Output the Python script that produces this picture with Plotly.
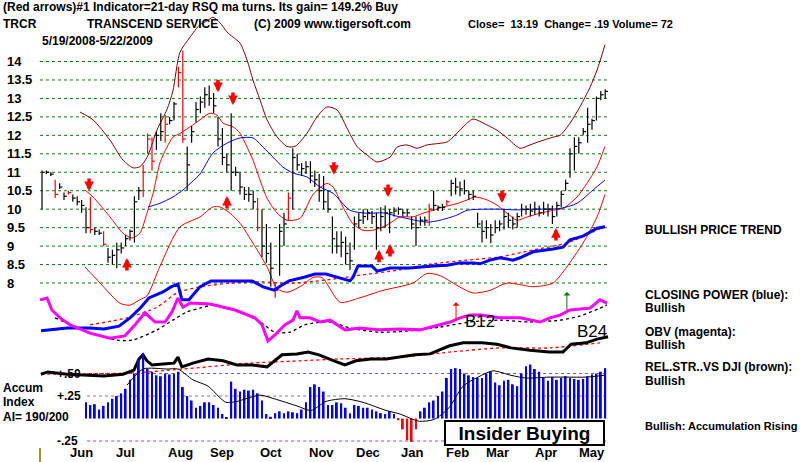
import plotly.graph_objects as go

FONT = "Liberation Sans, Arial, sans-serif"

# ---------------- data ----------------
title_line1 = "(Red arrows)#1 Indicator=21-day RSQ ma turns. Its gain= 149.2% Buy"
ticker = "TRCR"
company = "TRANSCEND SERVICE"
copyright_txt = "(C) 2009 www.tigersoft.com"
quote_txt = "Close=  13.19  Change= .19 Volume= 72"
date_range = "5/19/2008-5/22/2009"

price_ticks = [8, 8.5, 9, 9.5, 10, 10.5, 11, 11.5, 12, 12.5, 13, 13.5, 14]
price_tick_labels = ["8", "8.5", "9", "9.5", "10", "10.5", "11", "11.5", "12", "12.5", "13", "13.5", "14"]

month_labels = ["Jun", "Jul", "Aug", "Sep", "Oct", "Nov", "Dec", "Jan", "Feb", "Mar", "Apr", "May"]
month_day = [18, 38, 63, 82, 104, 127, 148, 168, 189, 207, 229, 250]

# price bars, one sample every 2 trading days
bar_high = [11.05, 11.05, 11.0, 10.8, 10.7, 10.45, 10.5, 10.4, 10.35, 10.25,
            10.05, 10.33, 9.5, 9.45, 9.4, 8.95, 8.9, 9.1, 9.1, 9.3,
            9.45, 10.35, 10.6, 11.2, 12.05, 11.95, 12.1, 12.6, 12.55, 12.5,
            12.9, 13.85, 14.3, 11.7, 12.25, 12.9, 13.05, 13.3, 13.35, 13.15,
            12.5, 12.2, 11.5, 12.6, 11.15, 11.0, 10.6, 10.6, 10.5, 10.3,
            10.0, 9.6, 9.1, 8.0, 9.6, 9.9, 10.45, 11.65, 11.5, 11.25,
            11.3, 11.3, 11.05, 10.95, 10.9, 10.5, 9.8, 9.4, 9.4, 9.25,
            9.1, 9.8, 9.9, 10.0, 10.0, 9.95, 9.9, 10.05, 10.1, 10.0,
            10.05, 10.05, 10.0, 10.0, 9.8, 9.8, 9.8, 9.8, 10.15, 10.5,
            10.1, 10.15, 10.25, 10.8, 10.85, 10.75, 10.8, 10.5, 10.5, 9.9,
            9.7, 9.7, 9.6, 9.7, 9.7, 10.0, 9.9, 9.8, 9.9, 10.15,
            10.1, 10.15, 10.2, 10.1, 10.2, 10.15, 10.1, 10.2, 10.5, 10.8,
            11.65, 11.95, 11.95, 12.2, 12.75, 12.45, 13.05, 13.2, 13.25]
bar_low = [10.0, 10.95, 10.9, 10.3, 10.55, 10.25, 10.4, 10.2, 10.1, 9.9,
           9.35, 9.35, 9.3, 9.3, 9.0, 8.55, 8.5, 8.4, 8.8, 9.0,
           9.15, 9.1, 10.25, 10.33, 11.5, 11.05, 11.6, 11.85, 11.8, 12.3,
           12.4, 13.3, 11.8, 10.5, 11.8, 12.35, 12.6, 12.75, 12.8, 12.6,
           11.7, 11.2, 11.0, 10.5, 10.9, 10.4, 10.25, 10.2, 10.0, 9.4,
           8.7, 8.55, 7.9, 7.6, 8.2, 9.0, 9.7, 10.0, 11.05, 10.9,
           10.95, 10.7, 10.6, 10.2, 10.0, 9.9, 8.8, 8.8, 8.7, 8.5,
           8.35, 8.9, 9.5, 9.6, 9.7, 9.6, 8.9, 9.4, 9.5, 9.35,
           9.8, 9.85, 9.8, 9.8, 9.45, 9.0, 9.55, 9.55, 9.55, 9.95,
           9.95, 9.95, 10.1, 10.35, 10.4, 10.35, 10.4, 10.25, 10.25, 9.5,
           9.1, 9.2, 9.08, 9.35, 9.4, 9.45, 9.5, 9.45, 9.5, 9.8,
           9.85, 9.8, 9.85, 9.8, 9.85, 9.8, 9.6, 9.8, 10.05, 10.5,
           10.85, 11.05, 11.5, 12.0, 11.8, 12.15, 12.4, 12.95, 13.0]
bar_close = [11.0, 11.0, 10.95, 10.4, 10.6, 10.35, 10.45, 10.3, 10.2, 10.1,
             9.5, 9.45, 9.4, 9.35, 9.05, 8.7, 8.75, 8.9, 8.95, 9.2,
             9.4, 10.2, 10.5, 11.0, 11.9, 11.3, 12.0, 12.1, 12.3, 12.4,
             12.85, 13.7, 11.9, 11.2, 12.1, 12.7, 12.9, 13.1, 13.0, 12.8,
             11.9, 11.4, 11.2, 11.0, 11.0, 10.6, 10.4, 10.4, 10.2, 9.5,
             9.0, 8.8, 8.4, 7.8, 9.4, 9.6, 10.3, 11.4, 11.2, 11.1,
             11.15, 10.9, 10.8, 10.5, 10.2, 10.0, 9.2, 9.0, 9.1, 8.8,
             8.6, 9.6, 9.7, 9.8, 9.9, 9.8, 9.5, 9.8, 9.9, 9.9,
             9.95, 10.0, 9.9, 9.9, 9.6, 9.5, 9.7, 9.7, 10.0, 10.1,
             10.05, 10.05, 10.2, 10.7, 10.6, 10.55, 10.5, 10.4, 10.35, 9.6,
             9.4, 9.5, 9.3, 9.5, 9.6, 9.8, 9.7, 9.6, 9.8, 10.0,
             10.0, 9.95, 10.0, 9.9, 10.0, 10.0, 9.8, 10.1, 10.4, 10.7,
             11.5, 11.7, 11.8, 12.1, 12.3, 12.4, 13.0, 13.1, 13.19]
red_bar_index = [3, 6, 11, 14, 23, 24, 25, 28, 31, 32, 49, 53, 56, 88, 92]
bar_day = [2 * i for i in range(len(bar_high))]

# bands and moving average on the price scale: (trading day, price)
upper_band = [(17.3, 12.63), (23.2, 12.42), (30.9, 11.87), (36.8, 11.33), (41.4, 11.12), (44.5, 11.15),
              (47.7, 11.4), (52.3, 12.15), (56.8, 12.7), (59.5, 13.2), (62.7, 14.25), (67.3, 14.66),
              (71.8, 15.0), (75, 15.1), (77.7, 15.2), (80.9, 15.05), (84.1, 14.8), (86.8, 14.66),
              (90, 14.5), (93.2, 14.04), (95.9, 13.5), (99.1, 12.96), (102.3, 12.42), (106.8, 11.96),
              (111.4, 11.7), (115, 11.7), (120.5, 12.06), (125, 12.5), (129.5, 12.77), (134.1, 12.69),
              (138.6, 12.2), (143.2, 11.7), (147.7, 11.47), (152.3, 11.28), (158.2, 11.41), (161.4, 11.68),
              (165.9, 11.74), (170.5, 11.65), (175, 11.74), (184.1, 11.82), (186.8, 11.95), (191.4, 12.23),
              (195.9, 12.44), (202.3, 12.28), (206.8, 12.14), (211.4, 11.93), (217.3, 11.65), (221.8, 11.74),
              (226.4, 11.84), (232.3, 11.95), (235.5, 12.0), (240, 12.33), (244.5, 12.77), (249.1, 13.3),
              (252.3, 13.77), (255.9, 14.45)]
mid_line = [(19.5, 10.52), (23.2, 10.33), (30.9, 9.79), (36.8, 9.35), (40.9, 9.22), (44.5, 9.35),
            (47.7, 9.89), (50.5, 10.43), (53.6, 11.25), (56.8, 11.68), (59.5, 11.95), (62.7, 12.05),
            (67.3, 12.23), (71.8, 12.42), (76.4, 12.6), (79.5, 12.55), (82.3, 12.33), (86.8, 12.23),
            (90, 12.06), (93.2, 11.68), (95.9, 11.33), (99.1, 10.79), (102.3, 10.3), (106.8, 9.9),
            (111.4, 9.7), (117.3, 9.75), (123.2, 10.4), (129.5, 10.7), (132.3, 10.6), (136.8, 10.06),
            (141.4, 9.6), (145.9, 9.43), (150.5, 9.43), (156.8, 9.57), (162.7, 9.79), (168.6, 9.79),
            (173.2, 9.89), (177.7, 9.97), (182.3, 10.06), (188.6, 10.15), (193.2, 10.25), (196.8, 10.33),
            (202.3, 10.25), (206.8, 10.11), (211.4, 9.89), (215.9, 9.7), (220.5, 9.79), (226.4, 9.89),
            (232.3, 9.97), (236.8, 10.02), (243.2, 10.33), (247.7, 10.7), (252.3, 11.15), (255.9, 11.7)]
lower_band = [(19.5, 8.44), (26.4, 8.0), (35.5, 7.45), (40, 7.4), (44.5, 7.55), (47.7, 7.65),
              (53.6, 8.45), (62.7, 9.52), (71.8, 9.79), (77.7, 10.06), (80.9, 10.06), (85.5, 9.89),
              (90, 9.62), (95.9, 9.08), (102.3, 8.44), (106.8, 7.85), (111.4, 7.75), (117.3, 7.9),
              (123.2, 8.15), (127.3, 8.15), (135.5, 7.48), (144.5, 7.6), (155, 7.8), (168.6, 8.0),
              (175, 8.26), (180.9, 8.2), (190, 7.89), (195.9, 7.73), (203.6, 7.8), (211.4, 8.0),
              (223.2, 7.9), (232.3, 8.0), (238.6, 8.44), (245.9, 9.08), (252.3, 9.79), (255.9, 10.4)]
ma50_line = [(48.2, 10.06), (53.6, 10.16), (59.5, 10.33), (64.1, 10.52), (68.2, 10.74), (71.8, 10.95),
             (77.7, 11.52), (84.1, 11.79), (90, 11.93), (95.9, 11.93), (100.5, 11.68), (105, 11.41),
             (109.5, 11.14), (114.1, 10.98), (120.5, 10.87), (126.4, 10.6), (132.3, 10.43), (140, 9.97),
             (147.7, 9.89), (155, 9.9), (162.7, 9.79), (175, 9.65), (180.9, 9.7), (188.6, 9.84),
             (193.2, 9.97), (200.5, 10.0), (208.2, 10.0), (215.9, 9.98), (223.2, 10.0), (235.5, 10.02),
             (243.2, 10.16), (250.5, 10.52), (255.9, 10.79)]

# indicator scale (0-100): closing power, OBV, relative strength
closing_power = [(-0.45, 28.4), (11.4, 29.0), (21.4, 29.0), (28.2, 28.8), (35, 29.4), (40, 31.2), (45, 33.5),
                 (48.6, 35.5), (55, 36.8), (58.6, 37.9), (61.8, 38.5), (63.6, 35.1), (66.8, 35.1), (71.8, 37.9),
                 (76.8, 39.2), (85.5, 39.2), (95.5, 39.2), (100.5, 37.9), (105.5, 37.2), (109.1, 38.3),
                 (112.3, 39.2), (119.1, 40.0), (124.1, 40.7), (129.1, 40.7), (134.1, 40.0), (137.7, 39.6),
                 (140, 39.2), (141.4, 40.0), (143.6, 42.4), (150, 42.4), (152.3, 41.3), (158.2, 42.0),
                 (167.3, 42.0), (177.7, 42.4), (184.1, 42.6), (190, 43.1), (195.9, 43.1), (199.1, 42.9),
                 (203.6, 43.7), (208.2, 44.2), (214.1, 43.7), (217.3, 44.2), (223.2, 45.5), (232.3, 46.1),
                 (236.8, 46.5), (240, 48.1), (245.9, 48.9), (252.3, 50.6), (255.9, 50.9)]
closing_power_ma = [(21.8, 29.7), (38.6, 31.2), (52.3, 33.5), (61.4, 36.6), (71.8, 37.9), (85.5, 38.7),
                    (99.1, 39.0), (112.7, 38.7), (129.1, 39.4), (142.7, 40.3), (162.7, 41.6), (177.7, 42.9),
                    (193.2, 43.7), (208.2, 44.4), (223.2, 45.9), (238.6, 47.4), (250.5, 49.8), (255.9, 51.1)]
obv = [(-0.9, 35.1), (2.3, 35.5), (4.5, 32.9), (8.2, 31.2), (12.7, 29.7), (21.8, 27.9), (30.9, 26.8),
       (37.7, 27.3), (42.3, 29.7), (46.8, 32.3), (51.4, 30.3), (55.9, 30.3), (59.1, 32.5), (61.8, 35.5),
       (64.1, 33.5), (67.3, 34.4), (76.4, 34.2), (87.7, 32.9), (96.8, 31.2), (100, 29.7), (102.7, 26.2),
       (105.9, 27.5), (110.5, 29.7), (114.1, 30.7), (115.9, 32.7), (117.3, 31.2), (121.8, 31.2),
       (126.4, 30.3), (130.9, 30.7), (137.7, 28.6), (144.5, 29.0), (153.6, 28.6), (162.7, 28.8),
       (171.8, 28.6), (180.9, 29.7), (185.5, 30.3), (190, 31.2), (194.5, 31.8), (199.1, 31.8),
       (208.2, 31.2), (217.3, 31.2), (226.4, 30.3), (230.9, 31.2), (235.5, 31.8), (240, 32.9),
       (249.1, 33.3), (253.6, 35.1), (256.8, 34.4)]
obv_ma = [(5.9, 31.2), (21.8, 27.9), (34.1, 26.4), (41.4, 26.4), (52.3, 28.6), (59.5, 30.7), (65.9, 32.5),
          (71.8, 33.3), (78.6, 34.0), (90, 32.5), (99.1, 30.3), (105.9, 28.1), (112.7, 28.1), (119.5, 29.7),
          (130.9, 30.3), (140, 29.0), (153.6, 28.1), (167.3, 28.4), (180.9, 29.2), (194.5, 30.3),
          (208.2, 30.7), (221.8, 30.3), (235.5, 30.7), (244.5, 31.6), (253.6, 33.3), (256.8, 34.0)]
rel_strength = [(-0.5, 19.0), (2.7, 19.5), (11.4, 19.0), (20, 18.8), (28.2, 18.6), (36.8, 19.0), (41.8, 19.9),
                (44.1, 22.3), (45.9, 23.2), (47.7, 21.9), (50, 21.0), (55, 21.2), (60, 21.4), (61.8, 22.7),
                (63.6, 20.6), (68.6, 21.4), (75.5, 22.3), (82.3, 21.9), (88.6, 21.0), (95.5, 21.0),
                (102.3, 20.6), (109.1, 23.2), (115.9, 23.4), (120.9, 23.8), (125.9, 23.2), (132.7, 21.9),
                (137.7, 21.0), (142.7, 21.9), (149.5, 22.3), (156.4, 22.3), (162.7, 22.7), (169.5, 23.2),
                (176.4, 23.4), (185, 25.1), (191.4, 25.8), (200, 25.8), (206.8, 25.5), (213.2, 24.7),
                (221.8, 24.2), (230.5, 23.8), (236.8, 23.8), (240.5, 25.5), (247.3, 25.8), (252.3, 26.6),
                (257.3, 27.1)]
rel_strength_ma = [(-0.5, 19.0), (41.8, 19.3), (63.6, 20.1), (94.5, 21.4), (117.3, 21.9), (135.5, 22.3),
                   (162.7, 22.7), (185.5, 23.8), (208.2, 24.7), (230.9, 24.7), (253.6, 25.8)]

# accumulation index (from bar sample 10 on)
ai_values = [0.18, 0.15, 0.16, 0.10, 0.14, 0.18, 0.22, 0.25, 0.28, 0.33,
             0.43, 0.50, 0.65, 0.72, 0.55, 0.52, 0.48, 0.47, 0.50, 0.49,
             0.50, 0.52, 0.35, 0.25, 0.20, 0.12, 0.14, 0.18, 0.18, 0.15,
             0.12, 0.05, 0.01, 0.41, 0.33, 0.30, 0.32, 0.31, 0.32, 0.28,
             0.20, 0.05, 0.02, 0.06, 0.08, 0.06, 0.08, 0.07, 0.06, 0.10,
             0.18, 0.35, 0.38, 0.35, 0.30, 0.15, 0.15, 0.18, 0.17, 0.12,
             0.06, 0.15, 0.14, 0.12, 0.12, 0.10, 0.08, 0.06, 0.05, 0.08,
             0.05, -0.02, -0.12, -0.24, -0.26, -0.12, 0.08, 0.12, 0.18, 0.20,
             0.25, 0.30, 0.45, 0.55, 0.56, 0.55, 0.50, 0.48, 0.46, 0.45,
             0.45, 0.50, 0.52, 0.40, 0.37, 0.42, 0.43, 0.38, 0.36, 0.50,
             0.58, 0.60, 0.55, 0.52, 0.45, 0.42, 0.46, 0.43, 0.45, 0.47,
             0.45, 0.44, 0.43, 0.44, 0.47, 0.49, 0.50, 0.52, 0.56]
ai_day = bar_day[len(bar_day) - len(ai_values):]
ai_ma = [(38.6, 0.37), (45.9, 0.55), (56.8, 0.55), (61.8, 0.55), (68.6, 0.43), (75.5, 0.36), (80.5, 0.24),
         (83.6, 0.18), (88.6, 0.19), (99.1, 0.26), (105.5, 0.22), (115.9, 0.14), (122.3, 0.09),
         (129.1, 0.19), (137.7, 0.22), (145.9, 0.18), (156.4, 0.09), (162.7, 0.05), (171.4, -0.03),
         (178.2, -0.01), (185, 0.12), (191.4, 0.36), (198.2, 0.46), (205, 0.53), (213.2, 0.48),
         (220, 0.45), (230.5, 0.46), (238.6, 0.46), (247.3, 0.46), (255.5, 0.48)]
ai_levels = [0.5, 0.25, -0.25]
ai_level_labels = ["+.50", "+.25", "-.25"]

# signal arrows: (trading day, price at tip)
sell_arrows = [(21.4, 10.49), (80, 13.17), (86.8, 12.82), (132.7, 10.93), (157.3, 10.33), (209.1, 10.17)]
buy_arrows = [(38.6, 8.68), (84.1, 10.36), (153.2, 8.9), (158.2, 9.06), (233.6, 9.49)]
# thin arrows on the indicator scale
b12_arrow = (188.2, 34.6)
b24_arrow = (238.6, 36.8)

status_lines = ["BULLISH PRICE TREND", "CLOSING POWER (blue):", "Bullish", "OBV (magenta):", "Bullish",
                "REL.STR..VS DJI (brown):", "Bullish", "Bullish: Accumulation Rising"]
accum_lines = ["Accum", "Index", "AI= 190/200"]

# ---------------- figure ----------------
W, H = 800, 462
PX0, PXD = 42.0, 2.2  # pixel of day 0, pixels per trading day


def fx(px):
    return px / W


def fy(py):
    return 1 - py / H


fig = go.Figure()


def add_line(pairs, color, width, axis="y", dash="solid", shape="linear"):
    fig.add_trace(go.Scatter(x=[p[0] for p in pairs], y=[p[1] for p in pairs], mode="lines", yaxis=axis,
                             line=dict(color=color, width=width, dash=dash, shape=shape, smoothing=0.7),
                             hoverinfo="skip", showlegend=False))


# bands on price scale
add_line(upper_band, "#800000", 1, shape="spline")
add_line(lower_band, "#ff0000", 1, shape="spline")
add_line(mid_line, "#ff0000", 1, shape="spline")
add_line(ma50_line, "#0000ff", 1, shape="spline")

# price bars
for red in (False, True):
    xs, ys = [], []
    for i, d in enumerate(bar_day):
        if (i in red_bar_index) != red:
            continue
        xs += [d, d, None, d, d + 1.3, None]
        ys += [bar_low[i], bar_high[i], None, bar_close[i], bar_close[i], None]
    fig.add_trace(go.Scatter(x=xs, y=ys, mode="lines", line=dict(color="#ff0000" if red else "#000000", width=1.2),
                             hoverinfo="skip", showlegend=False))

# indicators
add_line(closing_power_ma, "#ff0000", 1.3, axis="y2", dash="dot", shape="spline")
add_line(closing_power, "#0000ff", 3, axis="y2")
add_line(obv_ma, "#000000", 1.3, axis="y2", dash="dot", shape="spline")
add_line(obv, "#ff00ff", 3, axis="y2")
add_line(rel_strength_ma, "#ff0000", 1.3, axis="y2", dash="dot", shape="spline")
add_line(rel_strength, "#000000", 3, axis="y2")

# accumulation index
fig.add_trace(go.Bar(x=ai_day, y=ai_values, yaxis="y3", width=0.9,
                     marker=dict(color=["#ff0000" if v < 0 else "#0000ff" for v in ai_values], line=dict(width=0)),
                     hoverinfo="skip", showlegend=False))
add_line(ai_ma, "#000000", 1, axis="y3", shape="spline")

shapes = []
for v in price_ticks:
    shapes.append(dict(type="line", xref="x", yref="y", x0=-0.9, x1=257, y0=v, y1=v, layer="below",
                       line=dict(color="#008000", width=1, dash="dot")))
for v, c in zip(ai_levels, ["#885577", "#aa6688", "#cc3399"]):
    shapes.append(dict(type="line", xref="x", yref="y3", x0=20.5, x1=257, y0=v, y1=v, layer="below",
                       line=dict(color=c, width=1, dash="dot")))
shapes.append(dict(type="line", xref="paper", yref="paper", x0=fx(40), x1=fx(40), y0=fy(448), y1=fy(462),
                   line=dict(color="#999933", width=2)))

ann = []


def text(px, py, s, size=12, bold=True, anchor="left", color="#000000"):
    ann.append(dict(xref="paper", yref="paper", x=fx(px), y=fy(py), text=("<b>%s</b>" % s) if bold else s,
                    showarrow=False, xanchor=anchor, yanchor="middle",
                    font=dict(family=FONT, size=size, color=color)))


text(1, 7, title_line1)
text(1, 24, ticker)
text(85, 24, company)
text(252, 24, copyright_txt)
text(570, 24, quote_txt, size=11, anchor="center")
text(40, 41, date_range)

for v, lab in zip(price_ticks, price_tick_labels):
    ann.append(dict(xref="paper", yref="y", x=fx(5), y=v, text="<b>%s</b>" % lab, showarrow=False,
                    xanchor="left", yanchor="middle", font=dict(family=FONT, size=13, color="#000000")))

for d, lab in zip(month_day, month_labels):
    ann.append(dict(xref="x", yref="paper", x=d, y=fy(452), text="<b>%s</b>" % lab, showarrow=False,
                    xanchor="center", yanchor="middle", font=dict(family=FONT, size=13, color="#000000")))

for v, lab in zip(ai_levels, ai_level_labels):
    ann.append(dict(xref="paper", yref="y3", x=fx(55), y=v, text="<b>%s</b>" % lab, showarrow=False,
                    xanchor="left", yanchor="middle", font=dict(family=FONT, size=12, color="#000000")))

for py, s in zip([388, 402, 417], accum_lines):
    text(1, py, s, size=12)

for py, s in zip([230, 295, 308, 332, 345, 367, 381], status_lines[:-1]):
    text(643, py, s)
text(643, 426, status_lines[-1], size=11)

text(463, 321, "B12", size=17, bold=False)
text(575, 331, "B24", size=17, bold=False)

ann.append(dict(xref="paper", yref="paper", x=fx(524.5), y=fy(433), text="<b>Insider Buying</b>",
                showarrow=False, xanchor="center", yanchor="middle", width=157, height=22,
                bordercolor="#000000", borderwidth=2, borderpad=0, bgcolor="#ffffff",
                font=dict(family=FONT, size=19, color="#000000")))

for d, v in sell_arrows:
    ann.append(dict(xref="x", yref="y", x=d, y=v, ax=0, ay=-14, text="", showarrow=True, arrowhead=2,
                    arrowsize=0.55, arrowwidth=3.5, arrowcolor="#ff0000", standoff=0))
for d, v in buy_arrows:
    ann.append(dict(xref="x", yref="y", x=d, y=v, ax=0, ay=14, text="", showarrow=True, arrowhead=2,
                    arrowsize=0.55, arrowwidth=3.5, arrowcolor="#ff0000", standoff=0))
for (d, v), col in zip([b12_arrow, b24_arrow], ["#ff0000", "#008000"]):
    ann.append(dict(xref="x", yref="y2", x=d, y=v, ax=0, ay=20, text="", showarrow=True, arrowhead=1,
                    arrowsize=1.2, arrowwidth=1, arrowcolor=col, standoff=0))

fig.update_layout(
    width=W, height=H, margin=dict(l=0, r=0, t=0, b=0, pad=0),
    paper_bgcolor="#ffffff", plot_bgcolor="#ffffff", showlegend=False,
    xaxis=dict(range=[(0 - PX0) / PXD, (W - PX0) / PXD], visible=False, domain=[0, 1]),
    yaxis=dict(range=[3.152, 15.666], visible=False, domain=[0, 1]),
    yaxis2=dict(range=[0, 100], visible=False, overlaying="y", anchor="x"),
    yaxis3=dict(range=[-0.483, 4.65], visible=False, overlaying="y", anchor="x"),
    shapes=shapes, annotations=ann,
)

fig.write_html("out.html", config={"displayModeBar": False})
